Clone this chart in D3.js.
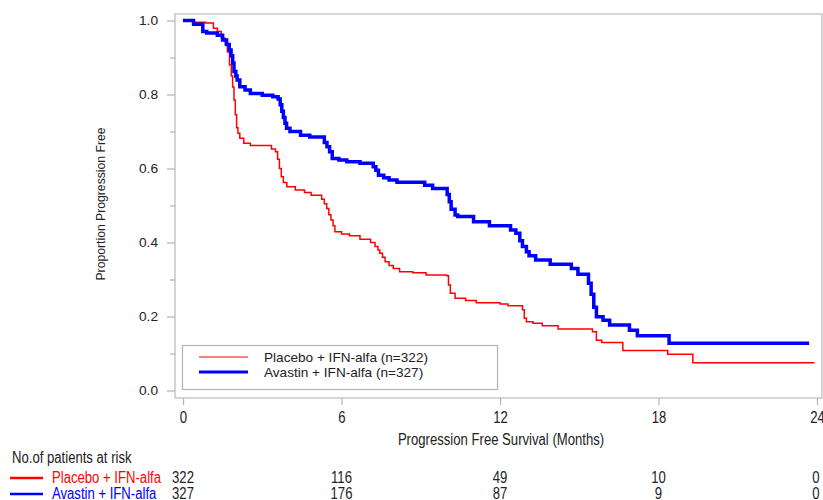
<!DOCTYPE html>
<html>
<head>
<meta charset="utf-8">
<script src="https://cdn.jsdelivr.net/npm/d3@7"></script>
<style>
    body { margin: 0; background: #fff; }
    svg { display: block; }
    text { font-family: "Liberation Sans", Arial, sans-serif; }
</style>
</head>
<body>
<div id="chart"></div>
<script>
// Kaplan-Meier step points: time (months) and proportion progression free after that time
const placeboTime = [0, 0.4, 0.85, 1.15, 1.3, 1.45, 1.6, 1.68, 1.76, 1.83, 1.88, 1.93, 1.98, 2.03, 2.08, 2.15, 2.3, 2.55,
    3.35, 3.5, 3.58, 3.65, 3.72, 3.8, 3.93, 4.25, 4.6, 4.85, 5.25, 5.35, 5.44, 5.52, 5.6, 5.68, 5.75, 6.0, 6.3, 6.7,
    7.1, 7.27, 7.38, 7.45, 7.55, 7.65, 7.8, 7.96, 8.2, 8.7, 9.2, 9.98, 10.05, 10.12, 10.3, 10.7, 11.1, 12.0, 12.3,
    12.85, 12.92, 13.0, 13.25, 13.6, 14.2, 15.5, 15.65, 15.85, 16.65, 18.35, 19.3, 23.9];
const placeboSurv = [1.0, 0.995, 0.993, 0.979, 0.97, 0.952, 0.935, 0.915, 0.88, 0.85, 0.82, 0.785, 0.745, 0.71, 0.695, 0.682, 0.668, 0.662,
    0.653, 0.645, 0.625, 0.60, 0.578, 0.562, 0.551, 0.542, 0.535, 0.528, 0.517, 0.505, 0.492, 0.475, 0.461, 0.445, 0.429, 0.423, 0.418, 0.409,
    0.40, 0.389, 0.38, 0.371, 0.36, 0.348, 0.338, 0.33, 0.321, 0.318, 0.312, 0.31, 0.285, 0.263, 0.249, 0.243, 0.237, 0.234, 0.229,
    0.218, 0.195, 0.186, 0.182, 0.175, 0.166, 0.159, 0.136, 0.13, 0.108, 0.098, 0.075, 0.075];

const avastinTime = [0, 0.4, 0.75, 0.9, 1.3, 1.5, 1.65, 1.75, 1.82, 1.88, 1.93, 2.0, 2.05, 2.15, 2.35, 2.55, 3.0, 3.4,
    3.6, 3.68, 3.74, 3.8, 3.86, 3.92, 4.05, 4.45, 4.8, 5.35, 5.45, 5.55, 5.65, 5.9, 6.2, 6.7, 7.2, 7.3, 7.4, 7.6, 7.8,
    8.1, 9.15, 9.45, 10.0, 10.08, 10.15, 10.3, 10.4, 11.0, 11.6, 12.4, 12.6, 12.75, 12.85, 13.0, 13.1, 13.35, 13.9,
    14.7, 14.95, 15.35, 15.45, 15.55, 15.65, 15.9, 16.15, 16.9, 17.2, 18.4, 23.7];
const avastinSurv = [1.0, 0.99, 0.97, 0.966, 0.96, 0.947, 0.935, 0.92, 0.905, 0.885, 0.862, 0.85, 0.839, 0.821, 0.812, 0.803, 0.798, 0.794,
    0.788, 0.772, 0.755, 0.738, 0.722, 0.709, 0.70, 0.69, 0.685, 0.67, 0.659, 0.645, 0.627, 0.623, 0.618, 0.614, 0.605, 0.595, 0.582, 0.575, 0.569,
    0.563, 0.555, 0.546, 0.53, 0.51, 0.49, 0.474, 0.47, 0.456, 0.445, 0.434, 0.425, 0.405, 0.389, 0.375, 0.364, 0.353, 0.341,
    0.33, 0.314, 0.29, 0.26, 0.225, 0.199, 0.19, 0.177, 0.163, 0.148, 0.128, 0.128];

const xTicks = [0, 6, 12, 18, 24];
const yTicks = [0, 0.2, 0.4, 0.6, 0.8, 1.0];
const yMinorTicks = [0.1, 0.3, 0.5, 0.7, 0.9];

const groups = ["Placebo + IFN-alfa", "Avastin + IFN-alfa"];
const groupN = [322, 327];
const atRisk = [
    [322, 116, 49, 10, 0],
    [327, 176, 87, 9, 0]
];
const colors = ["#ff0000", "#0000ff"];
const widths = [1.5, 3.5];

const width = 823, height = 500;
const squeeze = 0.82; //text in the picture is horizontally condensed

const x = d3.scaleLinear().domain([0, 24]).range([183, 817]);
const y = d3.scaleLinear().domain([0, 1]).range([390.5, 20.5]);

const svg = d3.select("#chart").append("svg")
    .attr("width", width)
    .attr("height", height);

//places a condensed text at (px, py)
function narrowText(parent, px, py, str) {
    return parent.append("text")
        .attr("transform", `translate(${px},${py}) scale(${squeeze},1)`)
        .attr("dominant-baseline", "central")
        .attr("font-size", 16)
        .attr("fill", "#222")
        .text(str);
}

//frame round the plot
const frameL = 175, frameR = 822, frameT = 14, frameB = 398;
svg.append("path")
    .attr("d", `M${frameL},${frameB}V${frameT}H${frameR}V${frameB}H${frameL}`)
    .attr("fill", "none")
    .attr("stroke", "#c8c8c8")
    .attr("stroke-width", 1.5);

//y axis
const yAxis = svg.append("g")
    .attr("transform", `translate(${frameL},0)`)
    .call(d3.axisLeft(y).tickValues(yTicks).tickFormat(d3.format(".1f")).tickSize(8).tickPadding(9));
yAxis.select(".domain").remove();
yAxis.selectAll("line").attr("stroke", "#b4b4b4").attr("stroke-width", 1.2);
yAxis.selectAll("text").attr("font-size", 13.7).attr("fill", "#222");

const yMinor = svg.append("g")
    .attr("transform", `translate(${frameL},0)`)
    .call(d3.axisLeft(y).tickValues(yMinorTicks).tickFormat("").tickSize(5));
yMinor.select(".domain").remove();
yMinor.selectAll("line").attr("stroke", "#b4b4b4").attr("stroke-width", 1.2);

//x axis
const xAxis = svg.append("g")
    .attr("transform", `translate(0,${frameB})`)
    .call(d3.axisBottom(x).tickValues(xTicks).tickSize(7).tickPadding(7));
xAxis.select(".domain").remove();
xAxis.selectAll("line").attr("stroke", "#b4b4b4").attr("stroke-width", 1.2);
xAxis.selectAll("text")
    .attr("font-size", 16)
    .attr("fill", "#222")
    .attr("transform", `scale(${squeeze},1)`);

//axis titles
narrowText(svg, 501, 440, "Progression Free Survival (Months)")
    .attr("text-anchor", "middle");

svg.append("text")
    .attr("transform", "translate(101,204) rotate(-90)")
    .attr("text-anchor", "middle")
    .attr("dominant-baseline", "central")
    .attr("font-size", 12.2)
    .attr("fill", "#222")
    .text("Proportion Progression Free");

//curves
const line = d3.line()
    .x(d => x(d[0]))
    .y(d => y(d[1]))
    .curve(d3.curveStepAfter);

const series = [
    d3.zip(placeboTime, placeboSurv),
    d3.zip(avastinTime, avastinSurv)
];

svg.selectAll(".km")
    .data(series)
    .enter().append("path")
    .attr("class", "km")
    .attr("d", line)
    .attr("fill", "none")
    .attr("stroke", (d, i) => colors[i])
    .attr("stroke-width", (d, i) => widths[i]);

//legend
const legend = svg.append("g");
legend.append("rect")
    .attr("x", 182.5).attr("y", 345.5)
    .attr("width", 315).attr("height", 44)
    .attr("fill", "#fff")
    .attr("stroke", "#b4b4b4")
    .attr("stroke-width", 1.2);

groups.forEach((g, i) => {
    const ly = 357 + i * 15;
    legend.append("line")
        .attr("x1", 199).attr("x2", 248)
        .attr("y1", ly).attr("y2", ly)
        .attr("stroke", colors[i])
        .attr("stroke-width", widths[i] - 0.5);
    legend.append("text")
        .attr("x", 264).attr("y", ly)
        .attr("dominant-baseline", "central")
        .attr("font-size", 13.6)
        .attr("fill", "#222")
        .text(`${g} (n=${groupN[i]})`);
});

//number at risk table
narrowText(svg, 12, 458, "No.of patients at risk");

groups.forEach((g, i) => {
    const ry = 478 + i * 16;
    svg.append("line")
        .attr("x1", 10).attr("x2", 43)
        .attr("y1", ry).attr("y2", ry)
        .attr("stroke", colors[i])
        .attr("stroke-width", 2.5);
    narrowText(svg, 52, ry, g)
        .attr("fill", colors[i]);
    atRisk[i].forEach((v, j) => {
        narrowText(svg, Math.min(x(xTicks[j]), 816), ry, v)
            .attr("text-anchor", "middle");
    });
});
</script>
</body>
</html>
